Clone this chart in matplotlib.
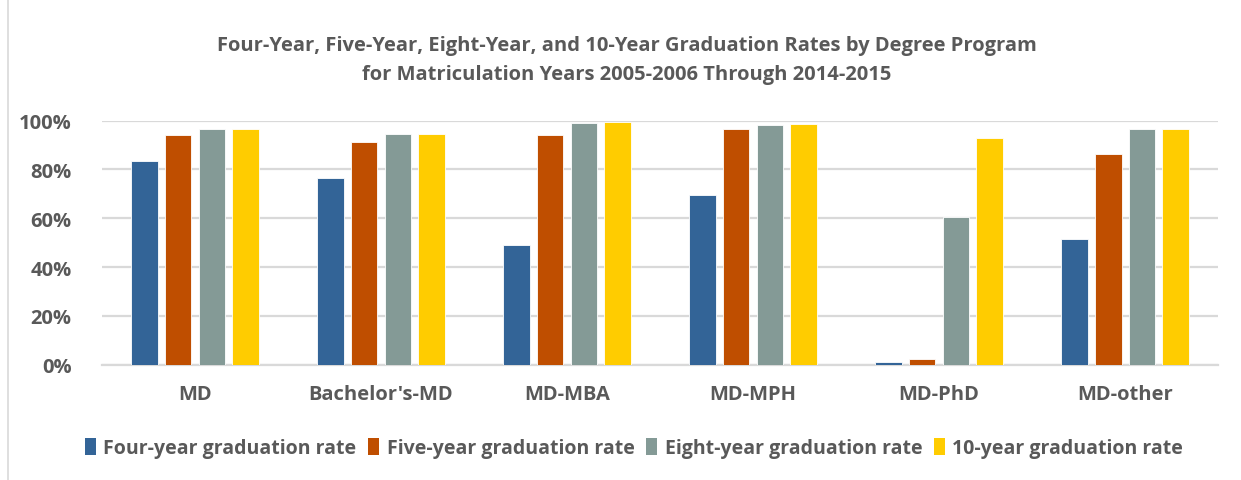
import matplotlib
matplotlib.use("Agg")
import matplotlib.pyplot as plt
import numpy as np
from matplotlib.patches import Patch
from matplotlib.lines import Line2D

# data
programmi = ["MD", "Bachelor's-MD", "MD-MBA", "MD-MPH", "MD-PhD", "MD-other"]
quattro_anni = [83.4, 76.4, 49.1, 69.4, 1.2, 51.5]
cinque_anni = [94.3, 91.1, 94.1, 96.6, 2.2, 86.4]
otto_anni = [96.5, 94.5, 99.1, 98.4, 60.4, 96.5]
dieci_anni = [96.6, 94.5, 99.3, 98.6, 92.8, 96.6]
serie_nomi = ["Four-year graduation rate", "Five-year graduation rate",
              "Eight-year graduation rate", "10-year graduation rate"]
colori = ["#336497", "#BF4E00", "#849A96", "#FFCC00"]
tick_y = [0, 20, 40, 60, 80, 100]
titolo = ("Four-Year, Five-Year, Eight-Year, and 10-Year Graduation Rates by Degree Program\n"
          "for Matriculation Years 2005-2006 Through 2014-2015")

grigio_testo = "#595959"
grigio_linee = "#D9D9D9"
font = ["Open Sans", "DejaVu Sans"]
plt.rcParams["font.family"] = font

fig = plt.figure(figsize=(12.41, 4.81), dpi=100)
ax = fig.add_axes([0.0822, 0.2397, 0.8993, 0.5073])

x = np.arange(len(programmi))
passo = 0.181
larghezza = 0.143
for i, (valori, nome, colore) in enumerate(zip([quattro_anni, cinque_anni, otto_anni, dieci_anni],
                                                serie_nomi, colori)):
    ax.bar(x + (i - 1.5) * passo, valori, width=larghezza, color=colore,
           edgecolor="white", linewidth=0.6, label=nome, zorder=3)

ax.set_xlim(-0.5, len(programmi) - 0.5)
ax.set_ylim(0, 100)
ax.set_yticks(tick_y)
ax.set_yticklabels([f"{v}%" for v in tick_y], fontsize=14.5, fontweight="bold", color=grigio_testo)
ax.set_xticks(x)
ax.set_xticklabels(programmi, fontsize=14.5, fontweight="bold", color=grigio_testo)
ax.tick_params(axis="y", length=0, pad=22)
ax.tick_params(axis="x", length=0, pad=14)
ax.grid(axis="y", color=grigio_linee, linewidth=1.6, zorder=0)
for lato in ["top", "right", "left"]:
    ax.spines[lato].set_visible(False)
ax.spines["bottom"].set_color(grigio_linee)
ax.spines["bottom"].set_linewidth(1.6)

fig.text(0.505, 0.874, titolo, ha="center", va="center", fontsize=14.5, fontweight="bold",
         color=grigio_testo, linespacing=1.6)

maniglie = [Patch(facecolor=c, edgecolor="none") for c in colori]
fig.legend(maniglie, serie_nomi, loc="center", bbox_to_anchor=(0.511, 0.066), ncol=4,
           frameon=False, prop={"family": font, "size": 14, "weight": "bold"},
           labelcolor=grigio_testo, handlelength=0.55, handleheight=0.9,
           handletextpad=0.4, columnspacing=0.6)

# bordo sinistro del riquadro del grafico
fig.add_artist(Line2D([0.0065, 0.0065], [0, 1], transform=fig.transFigure,
                      color=grigio_linee, linewidth=1.2))

fig.savefig("out.png", dpi=100)
